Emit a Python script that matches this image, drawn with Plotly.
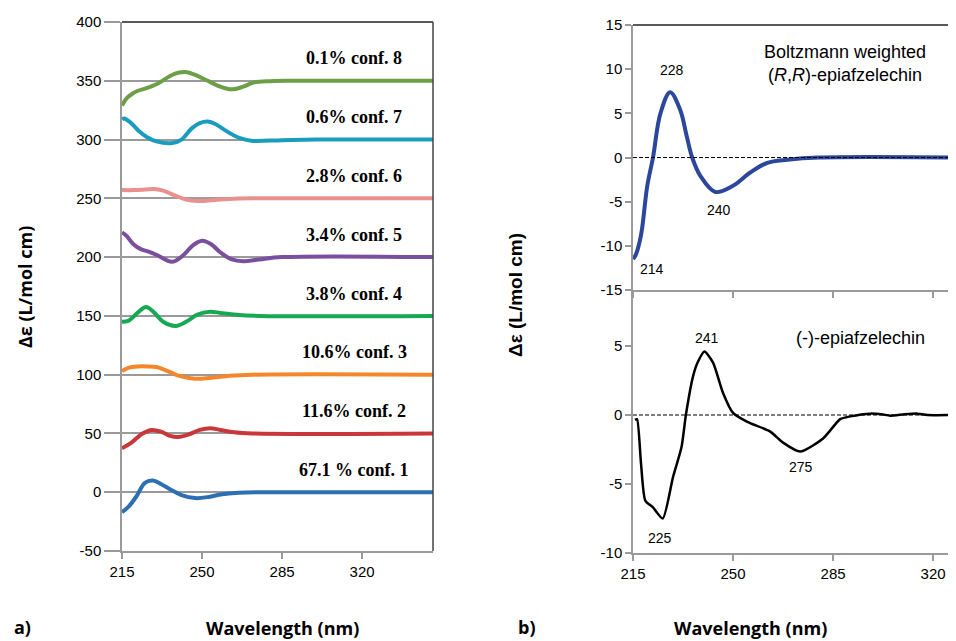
import plotly.graph_objects as go

# page default body margin is 8px, so the figure is drawn 8px in from the top-left corner
OFF = 8
W, H = 956 - OFF, 641 - OFF

# ---------- panel a) data: calculated ECD of conformers (delta values, offset applied) ----------
conf_names = ["67.1 % conf. 1", "11.6% conf. 2", "10.6% conf. 3", "3.8% conf. 4",
              "3.4% conf. 5", "2.8% conf. 6", "0.6% conf. 7", "0.1% conf. 8"]
conf_offsets = [0, 50, 100, 150, 200, 250, 300, 350]
conf_colors = ["#2c6fb2", "#c8373a", "#f4862c", "#17a853", "#7a4f9e", "#e8918f", "#1a9cbf", "#6c9f47"]

c1_x = [215, 218, 221.5, 225, 228.5, 232, 236, 241, 247, 253, 258, 266, 280, 352]
c1_y = [-17, -12, -3, 8, 10, 7, 2.5, -2.5, -5, -4, -2, -0.5, 0, 0]
c2_x = [215, 219, 224, 228, 232, 236, 239.5, 244, 249, 253.5, 258, 264, 272, 352]
c2_y = [-12.5, -8, 0, 3, 1.5, -2, -3, -1, 3, 4.5, 3, 1, 0, 0]
c3_x = [215, 218, 222, 226, 230, 235, 240, 245, 249, 255, 262, 272, 352]
c3_y = [3, 6, 7, 7, 6.5, 3, -1, -3, -3.5, -2.5, -1, 0, 0]
c4_x = [215, 218, 222, 225.5, 229, 233, 238.5, 243, 248, 253.5, 258, 265, 275, 352]
c4_y = [-5, -4, 3, 7.5, 3, -5, -8.5, -5, 1, 3.5, 2.5, 1, 0, 0]
c5_x = [215, 217, 220, 223, 226, 230, 237, 242, 246, 250, 254, 258, 263, 268, 275, 285, 352]
c5_y = [21, 18, 11, 7, 5, 2, -4, 2, 10, 14, 11, 4, -2, -3.5, -2, 0, 0]
c6_x = [215, 220, 225, 229, 233, 238, 243, 248, 255, 262, 272, 285, 352]
c6_y = [7, 7, 7.5, 8, 6.5, 2.5, -1, -2.2, -1.5, -0.5, 0, 0, 0]
c7_x = [215, 216, 219, 222, 226, 230, 237, 241, 245.5, 249, 252.6, 256, 260, 264, 267, 271.5, 285, 300, 352]
c7_y = [17, 18, 14, 8, 2, -1.5, -3, 0, 9.5, 14, 15.3, 13, 8, 3.5, 1, -1, -0.5, 0, 0]
c8_x = [215, 217, 219.5, 222, 225, 230.5, 236, 239.5, 243, 247, 252, 258, 263, 268, 272.5, 280, 290, 352]
c8_y = [-21, -15, -11, -8.5, -6.7, -2.5, 4, 6.8, 7.5, 5, 0.4, -5, -7.3, -5, -1.5, -0.3, 0, 0]

conf_x = [c1_x, c2_x, c3_x, c4_x, c5_x, c6_x, c7_x, c8_x]
conf_y = [c1_y, c2_y, c3_y, c4_y, c5_y, c6_y, c7_y, c8_y]

# ---------- panel b) data ----------
bw_x = [215, 216, 217.8, 220, 222, 224.6, 228, 231.5, 233.8, 235.7, 238.6, 243.8, 250, 256, 262, 269, 280, 328]
bw_y = [-11.5, -11, -8.8, -3.2, 0, 5, 7.4, 5.4, 2.4, 0, -2.1, -3.9, -3.2, -1.7, -0.6, -0.25, 0, 0]

ex_x = [215.7, 216.4, 217.8, 219.3, 222, 225.4, 229, 232, 233.5, 236, 237.6, 240, 243, 246.5, 250,
        255, 263, 267.5, 273.5, 281.5, 287.5, 291, 298, 302, 305, 310, 314.5, 318, 328]
ex_y = [-0.35, -0.3, -3.5, -6.2, -6.7, -7.5, -4.5, -2.3, 0, 2.8, 3.8, 4.6, 3.8, 1.6, 0.15,
        -0.5, -1.2, -2, -2.65, -1.7, -0.3, -0.1, 0.1, 0.05, -0.05, 0.05, 0.1, 0, 0]

x_ticks = [215, 250, 285, 320]
ya_ticks = [-50, 0, 50, 100, 150, 200, 250, 300, 350, 400]
yb_ticks = [-15, -10, -5, 0, 5, 10, 15]
yc_ticks = [-10, -5, 0, 5]


def lbl(v):
    return ("-%d" % -v) if v < 0 else "%d" % v


def px_x(p):
    return (p - OFF) / W


def px_y(p):
    return 1 - (p - OFF) / H


fig = go.Figure()

for xs, ys, off, col in zip(conf_x, conf_y, conf_offsets, conf_colors):
    fig.add_trace(go.Scatter(x=xs, y=[v + off for v in ys], mode="lines",
                             line=dict(color=col, width=4, shape="spline", smoothing=1.0),
                             xaxis="x", yaxis="y", showlegend=False, hoverinfo="skip"))

fig.add_trace(go.Scatter(x=bw_x, y=bw_y, mode="lines",
                         line=dict(color="#2b479c", width=4, shape="spline", smoothing=1.0),
                         xaxis="x2", yaxis="y2", showlegend=False))
fig.add_trace(go.Scatter(x=ex_x, y=ex_y, mode="lines",
                         line=dict(color="black", width=2.5, shape="spline", smoothing=0.6),
                         xaxis="x3", yaxis="y3", showlegend=False))

tickfont = dict(family="Liberation Sans, Arial", size=15, color="black")
axcol = "#9a9a9a"

common_x = dict(showline=True, linecolor=axcol, linewidth=1.5, ticks="outside", ticklen=6,
                tickcolor=axcol, tickwidth=1.5, showgrid=False, zeroline=False, automargin=False,
                tickvals=x_ticks, ticktext=[lbl(v) for v in x_ticks], tickfont=tickfont)
common_y = dict(showline=True, linecolor=axcol, linewidth=1.5, ticks="outside",
                tickcolor=axcol, tickwidth=1.5, zeroline=False, automargin=False, tickfont=tickfont)

fig.update_layout(
    width=W, height=H, margin=dict(l=0, r=0, t=0, b=0, pad=0), autosize=False,
    paper_bgcolor="white", plot_bgcolor="white",
    xaxis=dict(domain=[px_x(122), px_x(433)], range=[215, 351], anchor="y", **common_x),
    yaxis=dict(domain=[px_y(551), px_y(22)], range=[-50, 400], anchor="x", ticklen=16,
               tickvals=ya_ticks, ticktext=[lbl(v) for v in ya_ticks],
               showgrid=True, gridcolor=axcol, gridwidth=1.5, **common_y),
    xaxis2=dict(domain=[px_x(633), 1.0], range=[215, 328], anchor="y2", showticklabels=False, **common_x),
    yaxis2=dict(domain=[px_y(290), px_y(25)], range=[-15, 15], anchor="x2", ticklen=6,
                tickvals=yb_ticks, ticktext=[lbl(v) for v in yb_ticks],
                showgrid=False, **common_y),
    xaxis3=dict(domain=[px_x(633), 1.0], range=[215, 328], anchor="y3", **common_x),
    yaxis3=dict(domain=[px_y(553), px_y(290)], range=[-10, 9.06], anchor="x3", ticklen=6,
                tickvals=yc_ticks, ticktext=[lbl(v) for v in yc_ticks],
                showgrid=False, **common_y),
)

# dashed zero lines and plot borders
fig.add_shape(type="line", xref="x2 domain", yref="y2", x0=0, x1=1, y0=0, y1=0,
              line=dict(color="black", width=1, dash="4px,2px"))
fig.add_shape(type="line", xref="x3 domain", yref="y3", x0=0, x1=1, y0=0, y1=0,
              line=dict(color="black", width=1, dash="4px,2px"))
fig.add_shape(type="line", xref="x2 domain", yref="y2 domain", x0=0, x1=1, y0=1, y1=1,
              line=dict(color="#222222", width=1.5))
fig.add_shape(type="line", xref="x domain", yref="y domain", x0=0, x1=1, y0=1, y1=1,
              line=dict(color="#222222", width=1.5))
fig.add_shape(type="line", xref="x domain", yref="y domain", x0=1, x1=1, y0=0, y1=1,
              line=dict(color="#444444", width=1.5))

# conformer labels
for name, off in zip(conf_names, conf_offsets):
    fig.add_annotation(text="<b>%s</b>" % name, xref="paper", yref="y", x=px_x(354), y=off + 19,
                       xanchor="center", yanchor="middle", showarrow=False,
                       font=dict(family="Liberation Serif, Times New Roman", size=18, color="black"))

numfont = dict(family="Liberation Sans, Arial", size=14, color="black")
for t, x, y, xr, yr in [("228", 228.5, 9.9, "x2", "y2"), ("214", 221.5, -12.6, "x2", "y2"),
                        ("240", 245, -5.9, "x2", "y2"),
                        ("241", 240.8, 5.6, "x3", "y3"), ("225", 224.3, -8.9, "x3", "y3"),
                        ("275", 273.7, -3.8, "x3", "y3")]:
    fig.add_annotation(text=t, x=x, y=y, xref=xr, yref=yr, showarrow=False, font=numfont,
                       xanchor="center", yanchor="middle")

bigfont = dict(family="Liberation Sans, Arial", size=18, color="black")


def note(text, x, y, font, angle=0):
    fig.add_annotation(text=text, xref="paper", yref="paper", x=px_x(x), y=px_y(y),
                       xanchor="center", yanchor="middle", textangle=angle,
                       showarrow=False, font=font, align="center")


note("Boltzmann weighted<br>(<i>R</i>,<i>R</i>)-epiafzelechin", 845, 64, bigfont)
note("(-)-epiafzelechin", 860, 338, bigfont)

titlefont = dict(family="Open Sans, Liberation Sans", size=18, color="black")
note("<b>Δε (L/mol cm)</b>", 25, 287, titlefont, -90)
note("<b>Δε (L/mol cm)</b>", 515, 295, dict(family="Liberation Sans, Arial", size=19, color="black"), -90)
note("<b>Wavelength (nm)</b>", 282, 628, titlefont)
note("<b>Wavelength (nm)</b>", 750, 628, titlefont)
labfont = dict(family="Open Sans, Liberation Sans", size=18, color="black")
note("<b>a)</b>", 22, 627, labfont)
note("<b>b)</b>", 527, 627, labfont)

fig.write_html("out.html")
